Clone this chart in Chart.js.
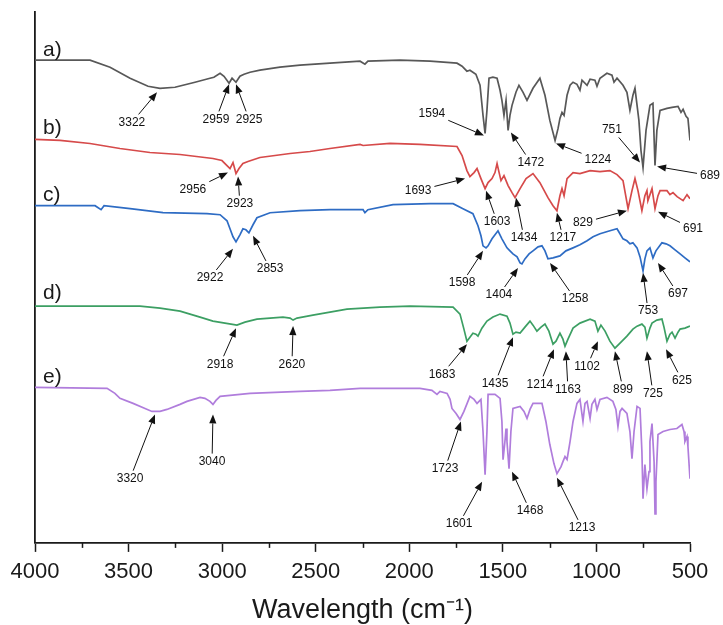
<!DOCTYPE html>
<html>
<head>
<meta charset="utf-8">
<script src="https://cdn.jsdelivr.net/npm/chart.js@4.4.1/dist/chart.umd.min.js"></script>
<style>
  html, body { margin: 0; padding: 0; background: #fff; }
</style>
</head>
<body>
<canvas id="ftir" width="723" height="625"></canvas>
<script>
// FTIR spectra a)-e), stacked with vertical offsets (arbitrary units)
// each point: [wavenumber cm-1, offset transmittance]
const traceA = [[4000,481],[3706,481],[3599,474],[3492,463],[3396,455],[3332,453],[3252,454],[3145,459],[3065,463],[3044,464],[3011,468],[2990,465],[2963,458],[2947,463],[2926,459],[2905,465],[2883,467],[2851,469],[2798,471],[2691,474],[2584,476],[2424,478],[2263,480],[2237,477],[2221,480],[2050,481],[1889,480],[1745,478],[1718,475],[1692,470],[1676,471],[1644,467],[1622,456],[1606,426],[1595,408],[1585,431],[1574,463],[1553,464],[1531,463],[1515,451],[1505,441],[1494,426],[1483,441],[1472,411],[1462,426],[1451,436],[1430,449],[1414,456],[1392,449],[1371,441],[1339,453],[1302,463],[1275,446],[1249,421],[1221,401],[1205,413],[1195,423],[1184,429],[1173,426],[1157,446],[1141,456],[1125,459],[1104,457],[1088,451],[1077,461],[1050,456],[1034,462],[1008,461],[997,455],[981,463],[944,468],[917,466],[906,459],[890,463],[858,456],[837,449],[821,431],[805,446],[794,453],[773,421],[762,391],[751,374],[735,411],[714,436],[698,438],[687,376],[677,411],[660,431],[623,433],[596,434],[564,435],[548,429],[537,432],[521,425],[511,423],[500,401]];
const traceB = [[4000,402],[3866,401],[3706,398],[3546,393],[3386,389],[3225,387],[3049,383],[3001,381],[2974,376],[2958,373],[2942,379],[2926,368],[2910,373],[2889,378],[2862,380],[2798,384],[2637,388],[2531,390],[2424,393],[2263,397],[2247,396],[2103,398],[1943,397],[1745,395],[1718,386],[1692,371],[1676,365],[1654,369],[1638,373],[1617,363],[1595,353],[1579,359],[1558,363],[1542,369],[1531,378],[1520,369],[1510,361],[1494,366],[1472,356],[1451,349],[1435,344],[1408,353],[1376,363],[1339,368],[1302,359],[1259,344],[1232,336],[1211,331],[1195,346],[1184,353],[1173,346],[1157,363],[1125,369],[1088,368],[1034,371],[981,370],[928,371],[890,367],[858,361],[831,333],[810,351],[794,363],[778,351],[757,331],[741,346],[730,351],[725,341],[703,353],[687,333],[671,346],[660,351],[623,351],[607,347],[591,349],[569,345],[553,343],[537,341],[516,347],[500,343]];
const traceC = [[4000,336],[3679,336],[3647,332],[3631,336],[3492,333],[3316,329],[3081,328],[3011,327],[2974,321],[2958,313],[2942,305],[2926,300],[2905,307],[2889,313],[2873,312],[2857,309],[2835,317],[2814,324],[2744,329],[2584,331],[2424,332],[2247,332],[2237,329],[2221,332],[2087,337],[1889,338],[1766,338],[1713,333],[1660,328],[1633,316],[1617,306],[1606,296],[1590,294],[1579,296],[1558,303],[1526,311],[1505,303],[1478,294],[1462,291],[1446,288],[1424,285],[1408,279],[1398,278],[1382,283],[1360,288],[1339,291],[1312,295],[1291,296],[1275,291],[1259,283],[1232,284],[1195,286],[1163,291],[1125,294],[1088,297],[1050,301],[1018,305],[981,308],[928,311],[890,313],[874,308],[858,303],[837,301],[821,298],[805,299],[783,294],[767,285],[751,271],[741,283],[730,291],[714,294],[698,284],[682,291],[650,299],[628,298],[607,296],[580,292],[553,288],[527,284],[500,280]];
const traceD = [[4000,236],[3439,236],[3332,234],[3225,231],[3118,225],[3049,221],[2985,219],[2921,217],[2878,220],[2814,223],[2744,224],[2675,225],[2637,224],[2621,222],[2600,224],[2515,227],[2424,230],[2333,233],[2157,235],[1996,236],[1766,235],[1729,228],[1708,213],[1692,201],[1676,205],[1660,209],[1644,208],[1633,206],[1612,214],[1585,221],[1553,225],[1515,228],[1478,226],[1462,219],[1446,208],[1430,210],[1408,209],[1382,215],[1355,221],[1339,217],[1318,211],[1296,215],[1275,218],[1254,211],[1232,198],[1216,201],[1195,209],[1179,203],[1168,196],[1152,203],[1125,214],[1088,219],[1034,223],[1008,221],[992,211],[976,217],[954,211],[928,201],[901,194],[874,199],[837,206],[805,213],[783,216],[757,218],[741,215],[730,204],[714,214],[703,219],[677,222],[650,223],[639,215],[623,201],[607,208],[596,210],[580,204],[564,210],[553,213],[527,214],[500,216]];
const traceE = [[4000,155],[3615,154],[3573,149],[3546,144],[3476,139],[3412,134],[3375,131],[3332,131],[3295,133],[3225,138],[3188,141],[3118,145],[3092,144],[3065,141],[3049,138],[3033,142],[3011,146],[2958,147],[2851,149],[2584,151],[2424,152],[2263,154],[2050,154],[1943,154],[1879,152],[1852,148],[1836,151],[1798,149],[1782,143],[1772,134],[1750,129],[1729,123],[1708,131],[1676,146],[1654,143],[1638,139],[1617,143],[1606,111],[1595,68],[1585,111],[1579,148],[1542,148],[1515,144],[1505,121],[1499,83],[1489,101],[1483,114],[1478,101],[1467,74],[1457,111],[1446,134],[1408,136],[1387,131],[1371,124],[1355,133],[1339,139],[1291,139],[1270,121],[1249,98],[1227,79],[1211,69],[1189,76],[1179,81],[1168,86],[1157,83],[1141,101],[1125,121],[1104,139],[1088,143],[1072,121],[1061,139],[1050,141],[1034,124],[1024,138],[1008,143],[997,133],[981,143],[944,145],[912,141],[896,133],[885,116],[874,131],[863,134],[837,129],[821,111],[810,84],[799,111],[783,136],[767,134],[757,91],[751,44],[741,78],[730,54],[719,71],[714,101],[703,119],[692,81],[687,29],[682,61],[671,108],[644,111],[607,113],[570,114],[543,118],[532,111],[527,101],[516,106],[511,96],[500,64]];

const traceNames = ['a)', 'b)', 'c)', 'd)', 'e)'];
const nameLevels = [491, 413, 346, 249, 165];
const majorTicks = [4000, 3500, 3000, 2500, 2000, 1500, 1000, 500];
const minorTicks = [3750, 3250, 2750, 2250, 1750, 1250, 750];

// peak labels: [text, text wavenumber, text level, tip wavenumber, tip level]
const peaks = [
  ['3322', 3482, 419, 3348, 449], ['2959', 3033, 422, 2963, 457], ['2925', 2856, 422, 2926, 457],
  ['1594', 1879, 428, 1601, 406], ['1472', 1350, 379, 1457, 409], ['1224', 992, 382, 1216, 398],
  ['751', 917, 412, 767, 379], ['689', 393, 366, 676, 375],
  ['2956', 3156, 352, 2969, 369], ['2923', 2905, 338, 2915, 365], ['1693', 1953, 351, 1702, 363],
  ['1603', 1531, 320, 1590, 351], ['1434', 1387, 304, 1430, 344], ['1217', 1179, 304, 1211, 329],
  ['829', 1072, 319, 837, 331], ['691', 484, 313, 671, 330],
  ['2922', 3065, 264, 2942, 293], ['2853', 2744, 273, 2835, 306], ['1598', 1718, 259, 1606, 291],
  ['1404', 1521, 247, 1419, 274], ['1258', 1114, 243, 1248, 279], ['753', 724, 231, 751, 269],
  ['697', 564, 248, 671, 279],
  ['2918', 3011, 178, 2926, 214], ['2620', 2627, 178, 2621, 216], ['1683', 1825, 168, 1692, 198],
  ['1435', 1542, 159, 1446, 205], ['1214', 1302, 158, 1227, 193], ['1163', 1152, 153, 1163, 191],
  ['1102', 1050, 176, 992, 201], ['899', 858, 153, 901, 191], ['725', 698, 149, 730, 191],
  ['625', 543, 162, 628, 193],
  ['3320', 3492, 64, 3359, 128], ['3040', 3054, 81, 3049, 128], ['1723', 1809, 74, 1724, 121],
  ['1601', 1734, 19, 1611, 61], ['1468', 1355, 32, 1451, 71], ['1213', 1077, 15, 1211, 65]
];

const COLORS = ['#585858', '#d64a4a', '#2e6cc4', '#3c9f63', '#b07ddc'];
const INK = '#1a1a1a';

Chart.defaults.font.family = '"Liberation Sans", Arial, sans-serif';

function drawArrow(ctx, x0, y0, x1, y1) {
  const dx = x1 - x0, dy = y1 - y0;
  const len = Math.hypot(dx, dy);
  if (len < 1) return;
  const ux = dx / len, uy = dy / len;
  const head = 9, half = 3.6;
  const bx = x1 - ux * head, by = y1 - uy * head;
  ctx.beginPath();
  ctx.moveTo(x0, y0);
  ctx.lineTo(bx, by);
  ctx.stroke();
  ctx.beginPath();
  ctx.moveTo(x1, y1);
  ctx.lineTo(bx - uy * half, by + ux * half);
  ctx.lineTo(bx + uy * half, by - ux * half);
  ctx.closePath();
  ctx.fill();
}

const overlay = {
  id: 'overlay',
  afterDraw(chart) {
    const { ctx } = chart;
    const x = chart.scales.x, y = chart.scales.y;
    ctx.save();

    // minor ticks
    ctx.strokeStyle = INK;
    ctx.lineWidth = 1.5;
    minorTicks.forEach(v => {
      const px = Math.round(x.getPixelForValue(v)) + 0.5;
      ctx.beginPath();
      ctx.moveTo(px, y.bottom);
      ctx.lineTo(px, y.bottom + 5);
      ctx.stroke();
    });

    // trace names
    ctx.fillStyle = INK;
    ctx.font = '21px "Liberation Sans", Arial, sans-serif';
    ctx.textAlign = 'left';
    ctx.textBaseline = 'middle';
    traceNames.forEach((n, i) => {
      ctx.fillText(n, x.left + 8, y.getPixelForValue(nameLevels[i]));
    });

    // peak labels + arrows
    ctx.font = '12px "Liberation Sans", Arial, sans-serif';
    ctx.textAlign = 'center';
    ctx.lineWidth = 1;
    ctx.strokeStyle = '#111';
    ctx.fillStyle = '#111';
    peaks.forEach(([txt, tw, tv, pw, pv]) => {
      const cx = x.getPixelForValue(tw), cy = y.getPixelForValue(tv);
      const px = x.getPixelForValue(pw), py = y.getPixelForValue(pv);
      ctx.fillText(txt, cx, cy);
      const hw = ctx.measureText(txt).width / 2 + 3, hh = 8;
      const dx = px - cx, dy = py - cy;
      const t = Math.min(dx ? hw / Math.abs(dx) : Infinity, dy ? hh / Math.abs(dy) : Infinity);
      drawArrow(ctx, cx + dx * t, cy + dy * t, px, py);
    });
    ctx.restore();
  }
};

const traces = [traceA, traceB, traceC, traceD, traceE];

new Chart(document.getElementById('ftir'), {
  type: 'line',
  data: {
    datasets: traces.map((t, i) => ({
      label: traceNames[i],
      data: t.map(p => ({ x: p[0], y: p[1] })),
      borderColor: COLORS[i],
      borderWidth: 1.7,
      pointRadius: 0,
      tension: 0,
      fill: false
    }))
  },
  options: {
    responsive: false,
    animation: false,
    devicePixelRatio: 1,
    layout: { padding: { top: 12, left: 35, right: 33, bottom: 0 } },
    plugins: { legend: { display: false }, tooltip: { enabled: false } },
    scales: {
      x: {
        type: 'linear',
        reverse: true,
        min: 500,
        max: 4000,
        afterBuildTicks: s => { s.ticks = majorTicks.map(v => ({ value: v })); },
        ticks: { font: { size: 22 }, color: INK, padding: 7, maxRotation: 0, autoSkip: false, callback: v => String(v) },
        grid: { drawOnChartArea: false, drawTicks: true, tickLength: 9, tickColor: INK, tickWidth: 1.5 },
        border: { color: INK, width: 1.8 },
        title: {
          display: true,
          text: 'Wavelength (cm⁻¹)',
          font: { size: 27, lineHeight: 1.1 },
          color: INK,
          padding: { top: 3, bottom: 0 }
        }
      },
      y: {
        min: 0,
        max: 529,
        ticks: { display: false },
        grid: { display: false, drawTicks: false },
        border: { color: INK, width: 1.8 }
      }
    }
  },
  plugins: [overlay]
});
</script>
</body>
</html>
